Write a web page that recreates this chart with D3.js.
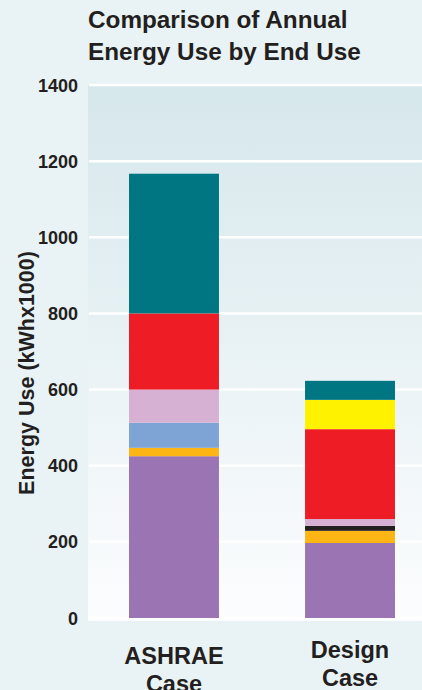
<!DOCTYPE html>
<html><head><meta charset="utf-8">
<script src="https://cdn.jsdelivr.net/npm/d3@7"></script>
<style>
html,body{margin:0;padding:0;background:#e9f2f4;overflow:hidden;}
svg{display:block;}
text{font-family:"Liberation Sans",Arial,Helvetica,sans-serif;font-weight:bold;fill:#231f20;}
</style></head>
<body>
<script>
const categories = ["ASHRAE Case", "Design Case"];
const categoryLines = [["ASHRAE", "Case"], ["Design", "Case"]];
const endUses = ["Use A", "Use B", "Use C", "Use D", "Use E", "Use F", "Use G", "Use H"];
const colors = ["#9b75b3", "#fdb515", "#231f20", "#7ea4d6", "#d7b1d3", "#ee1d25", "#fff200", "#007682"];
// values per end use: [ASHRAE, Design]
const useA = [425, 197];
const useB = [22, 32];
const useC = [0, 13];
const useD = [66, 0];
const useE = [87, 18];
const useF = [200, 236];
const useG = [0, 77];
const useH = [367, 50];
const yTicks = [0, 200, 400, 600, 800, 1000, 1200, 1400];
const title = ["Comparison of Annual", "Energy Use by End Use"];
const yTitle = "Energy Use (kWhx1000)";

const W = 422, H = 690;
const svg = d3.select("body").append("svg").attr("width", W).attr("height", H);

const defs = svg.append("defs");
const grad = defs.append("linearGradient").attr("id", "bg").attr("x1", 0).attr("x2", 0).attr("y1", 0).attr("y2", 1);
grad.append("stop").attr("offset", "0%").attr("stop-color", "#d6e7ec");
grad.append("stop").attr("offset", "100%").attr("stop-color", "#fcfdfe");

const plotLeft = 88, plotTop = 85, plotBottom = 618;
const y = d3.scaleLinear().domain([0, 1400]).range([plotBottom, plotTop]);
const x = d3.scaleBand().domain(categories).range([88, 436]).paddingInner(0.489).paddingOuter(0.233);

svg.append("rect").attr("x", plotLeft).attr("y", plotTop).attr("width", W - plotLeft).attr("height", plotBottom - plotTop + 3).attr("fill", "url(#bg)");

// gridlines
svg.append("g").selectAll("line").data(yTicks).join("line")
  .attr("x1", plotLeft + 1).attr("x2", W).attr("y1", d => y(d)).attr("y2", d => y(d))
  .attr("stroke", "#ffffff").attr("stroke-width", 2.5);

// tick labels
svg.append("g").selectAll("text").data(yTicks).join("text")
  .attr("x", 78).attr("y", d => y(d) + 6.5).attr("text-anchor", "end")
  .attr("font-size", 18).text(d => d);

// stacked data
const series = [useA, useB, useC, useD, useE, useF, useG, useH];
const table = categories.map((c, i) => {
  const o = {cat: c};
  endUses.forEach((u, j) => o[u] = series[j][i]);
  return o;
});
const stack = d3.stack().keys(endUses)(table);
svg.append("g").selectAll("g").data(stack).join("g")
  .attr("fill", (d, i) => colors[i])
  .selectAll("rect").data(d => d.filter(s => s[1] - s[0] > 0)).join("rect")
  .attr("x", d => x(d.data.cat)).attr("width", x.bandwidth())
  .attr("y", d => y(d[1])).attr("height", d => y(d[0]) - y(d[1]));

// title
svg.append("g").selectAll("text").data(title).join("text")
  .attr("x", 88).attr("y", (d, i) => 28 + i * 32).attr("font-size", 24.3).text(d => d);

// y title
svg.append("text").attr("transform", "translate(34,373) rotate(-90)")
  .attr("text-anchor", "middle").attr("font-size", 21.5).text(yTitle);

// x labels
const baseY = [664, 658];
categories.forEach((c, i) => {
  const cx = x(c) + x.bandwidth() / 2;
  svg.append("text").attr("x", cx).attr("y", baseY[i])
    .attr("text-anchor", "middle").attr("font-size", 23.5)
    .selectAll("tspan").data(categoryLines[i]).join("tspan")
    .attr("x", cx).attr("dy", (d, k) => k ? 28 : 0).text(d => d);
});
</script>
</body></html>
